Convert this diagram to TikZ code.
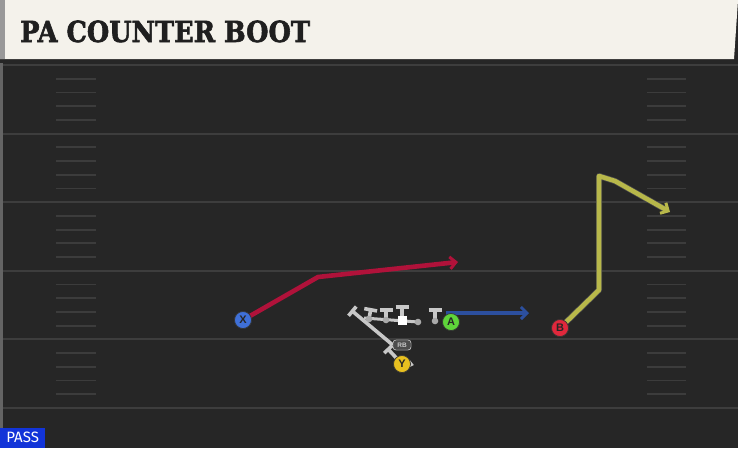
\documentclass[tikz,border=0pt]{standalone}
\usepackage{fontspec}
\setmainfont{Liberation Sans}
\newfontfamily\titlefont[FakeBold=2.2]{DejaVu Serif Bold}
\newfontfamily\passfont{Fira Sans}
\usetikzlibrary{arrows.meta,calc}
\definecolor{field}{HTML}{262626}
\definecolor{yard}{HTML}{3D3D3D}
\definecolor{hashc}{HTML}{3C3C3C}
\definecolor{titlebg}{HTML}{F4F2EB}
\definecolor{routered}{HTML}{B0123A}
\definecolor{routeblue}{HTML}{2C4F9E}
\definecolor{routeyel}{HTML}{B8B84A}
\definecolor{pblue}{HTML}{3F70D8}
\definecolor{pgreen}{HTML}{5ED43A}
\definecolor{pred}{HTML}{E0283C}
\definecolor{pyel}{HTML}{E8C020}
\definecolor{lgray}{HTML}{C8C8C8}
\definecolor{passblue}{HTML}{1234D8}
\tikzset{
  yardline/.style={draw=yard, line width=2pt},
  hashmark/.style={draw=hashc, line width=1.8pt},
  player/.style={circle, draw=black!80, line width=0.7pt, minimum size=17pt, inner sep=0pt, font=\fontsize{11}{11}\selectfont\bfseries, text=black!85},
  route/.style={line width=4.6pt, line join=round, -{Straight Barb[length=6pt,width=12pt,line width=3pt]}},
  blockline/.style={draw=lgray, line width=3.6pt},
  lineman/.style={draw=lgray, line width=3.6pt, -{Bar[width=13pt,line width=3.6pt]}},
  rbbox/.style={draw=lgray!70, fill=black!70, rounded corners=3pt, inner sep=1pt, minimum width=18pt, minimum height=10pt, font=\fontsize{6.5}{6.5}\selectfont\bfseries, text=lgray},
}
\begin{document}
\begin{tikzpicture}[x=1pt,y=-1pt]
\useasboundingbox (0,0) rectangle (738,448);
% field
\fill[field] (0,0) rectangle (738,448);
\fill[black!85] (0,57) rectangle (738,63);
\fill[yard!80] (0,63) rectangle (3,448);
% yard lines
\foreach \yy in {65,133.6,202.2,270.8,339.4,408} {
  \draw[yardline] (3,\yy) -- (738,\yy);
}
% hash marks
\foreach \yy in {65,133.6,202.2,270.8,339.4} {
  \foreach \k in {1,2,3,4} {
    \draw[hashmark] (56,\yy+\k*13.72) -- (96,\yy+\k*13.72);
    \draw[hashmark] (647,\yy+\k*13.72) -- (686,\yy+\k*13.72);
  }
}
% title bar
\fill[titlebg] (0,0) -- (738,0) -- (734,59) -- (0,59) -- cycle;
\fill[black!40] (0,0) rectangle (5,59);
\node[anchor=base west, inner sep=0pt, text=black!88] (title) at (20,42)
  {\scalebox{0.885}[1]{\titlefont\fontsize{29}{29}\selectfont PA COUNTER BOOT}};
% PASS label
\node[anchor=south west, fill=passblue, text=white, inner sep=0pt, minimum width=45pt, minimum height=20pt] (pass) at (0,448)
  {\passfont\fontsize{15}{15}\selectfont PASS};
% route coordinates
\coordinate (x1) at (318,277);
\coordinate (x2) at (458,262);
\coordinate (a0) at (446,313);
\coordinate (a1) at (529,313);
\coordinate (b1) at (599,290);
\coordinate (b2) at (599,176);
\coordinate (b3) at (615,181);
\coordinate (b4) at (670,212);
% players
\node[player, fill=pblue] (X) at (243,320) {X};
\node[player, fill=pgreen] (A) at (451,322) {A};
\node[player, fill=pred] (B) at (560,328) {B};
\node[player, fill=pyel] (Y) at (402,364) {Y};
% routes
\draw[route, draw=routered] (X.center) -- (x1) -- (x2);
\draw[route, draw=routeblue, line width=3.6pt] (a0) -- (a1);
\draw[draw=black!70, line width=6pt, line join=round] (B.center) -- (b1) -- (b2) -- (b3) -- ($(b3)!0.93!(b4)$);
\draw[route, draw=routeyel] (B.center) -- (b1) -- (b2) -- (b3) -- (b4);
% redraw players on top
\node[player, fill=pblue] at (X) {X};
\node[player, fill=pgreen] at (A) {A};
\node[player, fill=pred] at (B) {B};
% offensive line
\coordinate (l1) at (369,319);
\coordinate (l2) at (386,320);
\coordinate (l3) at (402,320);
\coordinate (l4) at (418,322);
\coordinate (l5) at (435,321);
\coordinate (rbend) at (351,310);
\coordinate (yend) at (387,348);
\draw[blockline, line width=3pt] (364,318) -- (l4);
\draw[lineman] (l1) -- (371,308);
\draw[lineman] (l2) -- (386,308);
\draw[lineman] (l3) -- (402,305);
\draw[lineman] (l5) -- (435,308);
\foreach \p in {l1,l2,l4,l5} { \fill[lgray!85!black] (\p) circle (3.3pt); }
\fill[white] ($(l3)+(-4.5,-4.5)$) rectangle ($(l3)+(4.5,4.5)$);
% backfield
\node[rbbox] (RB) at (402,345) {RB};
\draw[blockline, -{Bar[width=12pt,line width=3.6pt]}] (RB.west) -- (rbend);
\draw[blockline, -{Bar[width=11pt,line width=3.6pt]}] (Y.center) -- (yend);
\node[rbbox] at (RB) {RB};
\fill[lgray] ($(Y.east)+(-1,-4)$) -- ($(Y.east)+(3,1)$) -- ($(Y.east)+(-1,3)$) -- cycle;
\node[player, fill=pyel] at (Y) {Y};
\end{tikzpicture}
\end{document}
